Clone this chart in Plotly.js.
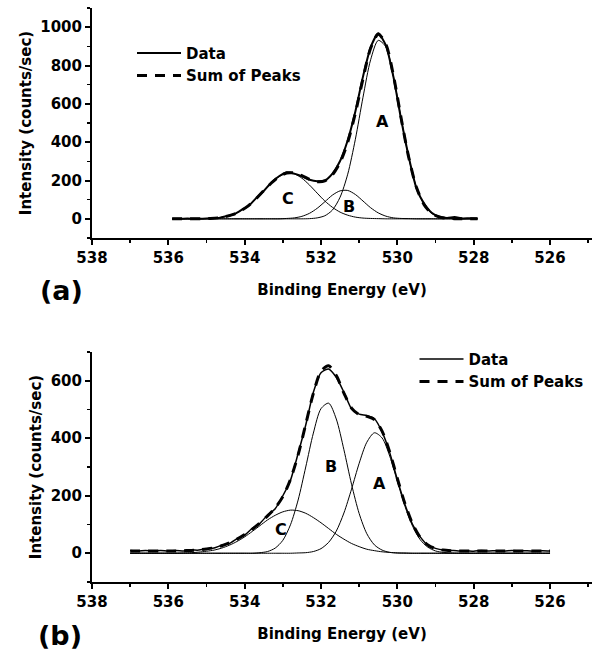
<!DOCTYPE html>
<html>
<head>
<meta charset="utf-8">
<script src="https://cdn.plot.ly/plotly-3.0.1.min.js"></script>
<style>html,body{margin:0;padding:0;background:#fff}#chart{width:597px;height:654px}</style>
</head>
<body>
<div id="chart"></div>
<script>
// ---------- Panel (a) ----------
const energyA = [535.9,535.7,535.5,535.3,535.1,534.9,534.7,534.5,534.3,534.1,
  533.9,533.7,533.5,533.3,533.1,532.9,532.7,532.5,532.3,532.1,
  531.9,531.7,531.5,531.3,531.1,530.9,530.7,530.5,530.3,530.1,
  529.9,529.7,529.5,529.3,529.1,528.9,528.7,528.5,528.3,528.1,
  527.9];
const dataA = [1,0,2,0,1,3,4,13,22,44,
  67,108,145,190,222,243,236,222,204,196,
  200,236,302,410,560,742,895,968,905,738,
  518,322,160,80,32,12,4,9,2,3,
  2];
const sumA = [0,0,0,0,1,2,5,12,23,42,
  69,105,147,187,220,239,239,225,206,194,
  198,230,294,400,551,731,890,963,911,745,
  525,319,165,74,28,9,3,1,0,0,
  0];
const peakA_a = [0,0,0,0,0,0,0,0,0,0,
  0,0,0,0,0,0,0,0,1,5,
  16,46,113,233,415,634,830,931,897,740,
  523,318,165,74,28,9,3,1,0,0,
  0];
const peakB_a = [0,0,0,0,0,0,0,0,0,0,
  0,0,0,0,0,2,5,13,29,55,
  89,124,146,148,127,93,58,31,14,5,
  2,1,0,0,0,0,0,0,0,0,
  0];
const peakC_a = [0,0,0,0,1,2,5,12,23,42,
  69,105,147,187,220,237,234,212,176,134,
  93,60,35,19,9,4,2,1,0,0,
  0,0,0,0,0,0,0,0,0,0,
  0];

// ---------- Panel (b) ----------
const energyB = [537,536.8,536.6,536.4,536.2,536,535.8,535.6,535.4,535.2,
  535,534.8,534.6,534.4,534.2,534,533.8,533.6,533.4,533.2,
  533,532.8,532.6,532.4,532.2,532,531.8,531.6,531.4,531.2,
  531,530.8,530.6,530.4,530.2,530,529.8,529.6,529.4,529.2,
  529,528.8,528.6,528.4,528.2,528,527.8,527.6,527.4,527.2,
  527,526.8,526.6,526.4,526.2,526];
const dataB = [10,7,10,8,10,7,10,8,11,11,
  16,18,28,34,51,63,87,104,133,155,
  200,254,347,446,560,628,641,612,560,502,
  484,479,468,422,350,256,170,100,57,28,
  17,11,10,8,9,7,10,8,9,7,
  10,8,9,7,9,8];
const sumB = [8,8,8,8,8,8,8,9,10,12,
  15,19,26,36,49,65,84,106,130,158,
  197,257,342,449,556,633,652,618,557,505,
  482,476,465,425,352,260,172,102,55,29,
  16,11,9,8,8,8,8,8,8,8,
  8,8,8,8,8,8];
const peakA_b = [0,0,0,0,0,0,0,0,0,0,
  0,0,0,0,0,0,0,0,0,0,
  0,0,1,2,6,16,38,77,140,223,
  313,386,419,401,338,250,163,94,47,21,
  8,3,1,0,0,0,0,0,0,0,
  0,0,0,0,0,0];
const peakB_b = [0,0,0,0,0,0,0,0,0,0,
  0,0,0,0,0,0,0,2,6,18,
  45,99,185,300,418,503,522,467,360,240,
  138,68,29,11,3,1,0,0,0,0,
  0,0,0,0,0,0,0,0,0,0,
  0,0,0,0,0,0];
const peakC_b = [0,0,0,0,0,0,0,1,2,4,
  7,11,18,28,41,57,76,96,116,132,
  144,150,148,139,124,106,86,66,49,34,
  23,14,9,5,3,1,1,0,0,0,
  0,0,0,0,0,0,0,0,0,0,
  0,0,0,0,0,0];

const legendNames = ['Data', 'Sum of Peaks'];
const peakNames = ['A', 'B', 'C'];
const panelLabels = ['(a)', '(b)'];
const xTitle = 'Binding Energy (eV)';
const yTitle = 'Intensity (counts/sec)';

const FONT = 'DejaVu Sans';
const txt = (s) => ({family: FONT, size: s, color: '#000', weight: 'bold'});
const peakLine = {color: '#000', width: 1, shape: 'spline', smoothing: 0.8};

function peak(x, y, xa, ya) {
  return {x: x, y: y, xaxis: xa, yaxis: ya, type: 'scatter', mode: 'lines',
    line: peakLine, showlegend: false, hoverinfo: 'skip'};
}

const traces = [
  peak(energyA, peakA_a, 'x', 'y'),
  peak(energyA, peakB_a, 'x', 'y'),
  peak(energyA, peakC_a, 'x', 'y'),
  {x: energyA, y: dataA, xaxis: 'x', yaxis: 'y', type: 'scatter', mode: 'lines', name: legendNames[0],
   legend: 'legend', line: {color: '#000', width: 2, shape: 'spline', smoothing: 0.6}},
  {x: energyA, y: sumA, xaxis: 'x', yaxis: 'y', type: 'scatter', mode: 'lines', name: legendNames[1],
   legend: 'legend', line: {color: '#000', width: 3, dash: '10px,8px', shape: 'spline', smoothing: 0.8}},
  peak(energyB, peakA_b, 'x2', 'y2'),
  peak(energyB, peakB_b, 'x2', 'y2'),
  peak(energyB, peakC_b, 'x2', 'y2'),
  {x: energyB, y: dataB, xaxis: 'x2', yaxis: 'y2', type: 'scatter', mode: 'lines', name: legendNames[0],
   legend: 'legend2', line: {color: '#000', width: 1.5, shape: 'spline', smoothing: 0.6}},
  {x: energyB, y: sumB, xaxis: 'x2', yaxis: 'y2', type: 'scatter', mode: 'lines', name: legendNames[1],
   legend: 'legend2', line: {color: '#000', width: 3, dash: '10px,8px', shape: 'spline', smoothing: 0.8}}
];

function xaxis(anchor) {
  return {
    anchor: anchor, domain: [0, 1], range: [538, 524.9], autorange: false,
    tick0: 538, dtick: 2, ticks: 'outside', ticklen: 5, tickwidth: 2, tickcolor: '#000',
    minor: {dtick: 1, ticks: 'outside', ticklen: 3, tickwidth: 1.5, tickcolor: '#000'},
    showline: true, linewidth: 2, linecolor: '#000', showgrid: false, zeroline: false,
    tickfont: txt(15),
    title: {text: xTitle, font: txt(15), standoff: 18}
  };
}
function yaxis(anchor, domain, range) {
  return {
    anchor: anchor, domain: domain, range: range, autorange: false,
    tick0: 0, dtick: 200, ticks: 'outside', ticklen: 5, tickwidth: 2, tickcolor: '#000',
    minor: {dtick: 100, ticks: 'outside', ticklen: 3, tickwidth: 1.5, tickcolor: '#000'},
    showline: true, linewidth: 2, linecolor: '#000', showgrid: false, zeroline: false,
    tickfont: txt(15),
    title: {text: yTitle, font: txt(15), standoff: 5}
  };
}

const ann = (text, x, y, xref, yref, size) => ({text: text, x: x, y: y, xref: xref, yref: yref,
  showarrow: false, font: txt(size), xanchor: 'center', yanchor: 'middle'});

const layout = {
  width: 597, height: 654,
  margin: {l: 92, r: 5, t: 8, b: 72},
  paper_bgcolor: '#fff', plot_bgcolor: '#fff',
  font: txt(15),
  showlegend: true,
  xaxis: xaxis('y'),
  yaxis: yaxis('x', [0.5993, 1], [-100, 1100]),
  xaxis2: xaxis('y2'),
  yaxis2: yaxis('x2', [0, 0.4007], [-100, 700]),
  legend: {x: 0.08, y: 0.95, xanchor: 'left', yanchor: 'top',
    bgcolor: 'rgba(0,0,0,0)', font: txt(15), itemwidth: 44, tracegroupgap: 0},
  legend2: {x: 0.645, y: 0.417, xanchor: 'left', yanchor: 'top',
    bgcolor: 'rgba(0,0,0,0)', font: txt(15), itemwidth: 44, tracegroupgap: 0},
  annotations: [
    ann(peakNames[0], 530.39, 509, 'x', 'y', 16),
    ann(peakNames[1], 531.26, 62, 'x', 'y', 16),
    ann(peakNames[2], 532.87, 105, 'x', 'y', 16),
    ann(peakNames[0], 530.48, 243, 'x2', 'y2', 16),
    ann(peakNames[1], 531.74, 301, 'x2', 'y2', 16),
    ann(peakNames[2], 533.05, 84, 'x2', 'y2', 16),
    ann(panelLabels[0], -0.062, 0.507, 'paper', 'paper', 27),
    ann(panelLabels[1], -0.064, -0.094, 'paper', 'paper', 27)
  ]
};

Plotly.newPlot('chart', traces, layout, {displayModeBar: false, staticPlot: true});
</script>
</body>
</html>
